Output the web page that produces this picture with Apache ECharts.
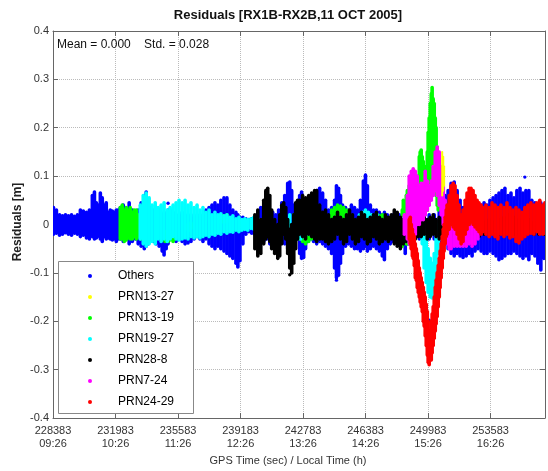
<!DOCTYPE html>
<html>
<head>
<meta charset="utf-8">
<script src="https://cdn.jsdelivr.net/npm/echarts@6/dist/echarts.min.js"></script>
<style>
  html, body { margin: 0; padding: 0; background: #fff; }
  #chart { width: 548px; height: 471px; }
</style>
</head>
<body>
<div id="chart"></div>
<script>
// GPS second-of-week ticks and the matching local clock time
const xTickSeconds = [228383, 231983, 235583, 239183, 242783, 246383, 249983, 253583];
const xTickLocal = ['09:26', '10:26', '11:26', '12:26', '13:26', '14:26', '15:26', '16:26'];

const seriesNames = ['Others', 'PRN13-27', 'PRN13-19', 'PRN19-27', 'PRN28-8', 'PRN7-24', 'PRN24-29'];
const seriesColors = ['#0000ff', '#ffff00', '#00ff00', '#00ffff', '#000000', '#ff00ff', '#ff0000'];

// Each row: [GPS time (s), lowest residual (m), highest residual (m)] of the epoch cluster.
// Rows with equal low and high are single isolated residuals.
const others = [
  [228410,-0.020,0.035],[228580,-0.018,0.030],[228760,-0.022,0.020],[228930,-0.020,0.018],
  [229100,-0.017,0.020],[229270,-0.020,0.018],[229450,-0.022,0.020],[229620,-0.018,0.017],
  [229790,-0.020,0.020],[229960,-0.025,0.030],[230130,-0.022,0.028],[230310,-0.028,0.025],
  [230480,-0.030,0.030],[230650,-0.025,0.060],[230770,-0.030,0.067],[230880,-0.028,0.045],
  [231000,-0.024,0.040],[231110,-0.030,0.065],[231220,-0.035,0.055],[231340,-0.025,0.040],
  [231450,-0.030,0.045],[231570,-0.028,0.025],[231680,-0.030,0.030],[231800,-0.032,0.028],
  [231910,-0.030,0.025],[232030,-0.035,0.030],[232140,-0.030,0.030],[232260,-0.030,0.035],
  [232430,-0.035,0.040],[232600,-0.028,0.030],[232770,-0.040,0.045],[232950,-0.035,0.030],
  [233120,-0.030,0.025],[233290,-0.040,0.030],[233460,-0.045,0.045],[233640,-0.050,0.060],
  [233750,-0.045,0.067],[233860,-0.040,0.050],[233980,-0.030,0.035],[234150,-0.035,0.030],
  [234320,-0.040,0.025],[234500,-0.045,0.030],[234670,-0.055,0.020],[234780,-0.063,0.025],
  [234900,-0.050,0.020],[235010,-0.040,0.030],[235130,-0.030,0.030],[235300,-0.030,0.025],
  [235470,-0.035,0.020],[235640,-0.030,0.020],[235820,-0.035,0.025],[235990,-0.040,0.020],
  [236160,-0.038,0.018],[236330,-0.035,0.020],[236510,-0.030,0.015],[236680,-0.025,0.020],
  [236850,-0.030,0.015],[237020,-0.035,0.020],[237190,-0.030,0.030],[237370,-0.040,0.035],
  [237540,-0.045,0.040],[237710,-0.050,0.045],[237880,-0.045,0.040],[238050,-0.050,0.050],
  [238230,-0.055,0.055],[238400,-0.060,0.055],[238570,-0.065,0.040],[238740,-0.070,0.030],
  [238920,-0.080,0.025],[239030,-0.088,0.020],[239150,-0.075,0.015],[239320,-0.040,0.015],
  [239490,-0.020,0.012],[239660,-0.015,0.010],[239830,-0.018,0.012],[240010,-0.020,0.015],
  [240180,-0.025,0.025],[240350,-0.030,0.035],[240520,-0.035,0.030],[240700,-0.030,0.020],
  [240870,-0.040,0.020],[241040,-0.045,0.025],[241210,-0.040,0.020],[241380,-0.030,0.030],
  [241560,-0.035,0.045],[241730,-0.040,0.060],[241900,-0.050,0.085],[242020,-0.060,0.088],
  [242130,-0.070,0.070],[242250,-0.050,0.040],[242420,-0.030,0.030],[242590,-0.060,0.060],
  [242700,-0.070,0.067],[242820,-0.068,0.050],[242930,-0.050,0.040],[243050,-0.035,0.030],
  [243220,-0.030,0.025],[243390,-0.035,0.040],[243570,-0.040,0.070],[243740,-0.035,0.075],
  [243910,-0.040,0.065],[244080,-0.045,0.050],[244250,-0.050,0.030],[244430,-0.060,0.035],
  [244600,-0.090,0.050],[244710,-0.110,0.080],[244830,-0.105,0.075],[244940,-0.080,0.060],
  [245060,-0.060,0.040],[245230,-0.045,0.035],[245400,-0.040,0.030],[245570,-0.045,0.040],
  [245750,-0.050,0.035],[245920,-0.050,0.030],[246090,-0.055,0.050],[246260,-0.050,0.090],
  [246380,-0.045,0.102],[246490,-0.055,0.080],[246660,-0.050,0.040],[246840,-0.045,0.030],
  [247010,-0.050,0.030],[247180,-0.055,0.025],[247350,-0.065,0.020],[247470,-0.073,0.025],
  [247640,-0.050,0.020],[247810,-0.040,0.015],[247990,-0.035,0.020],[248160,-0.030,0.015],
  [248330,-0.030,0.020],[248500,-0.025,0.015],[248670,-0.060,0.020],[248850,-0.040,0.015],
  [249020,-0.035,0.020],[249190,-0.030,0.015],[249480,-0.030,0.015],[249760,-0.030,0.020],
  [250050,-0.030,0.020],[250340,-0.030,0.020],[250630,-0.040,0.030],[250800,-0.030,0.040],
  [250970,-0.040,0.060],[251140,-0.050,0.070],[251310,-0.060,0.085],[251490,-0.065,0.088],
  [251660,-0.060,0.070],[251830,-0.065,0.050],[252000,-0.068,0.035],[252180,-0.065,0.030],
  [252350,-0.060,0.025],[252520,-0.065,0.030],[252690,-0.055,0.035],[252860,-0.050,0.030],
  [253040,-0.055,0.040],[253210,-0.060,0.045],[253380,-0.060,0.040],[253550,-0.055,0.050],
  [253730,-0.060,0.055],[253900,-0.065,0.060],[254070,-0.073,0.065],[254240,-0.070,0.070],
  [254410,-0.065,0.075],[254590,-0.060,0.060],[254760,-0.060,0.065],[254930,-0.055,0.055],
  [255100,-0.060,0.070],[255280,-0.065,0.075],[255450,-0.070,0.065],[255620,-0.065,0.070],
  [255790,-0.073,0.070],[255960,-0.060,0.050],[256140,-0.065,0.045],[256310,-0.080,0.040],
  [256480,-0.094,0.045],[256650,-0.070,0.040],
  [249760,-0.152,-0.152],[250050,-0.198,-0.198],[255560,0.098,0.098],[235010,0.044,0.044],
  [244710,-0.115,-0.115]
];

const prn13_27 = [
  [250800,0.060,0.150],[250860,0.070,0.140],[250910,0.080,0.120]
];

const prn13_19 = [
  [232260,-0.030,0.035],[232370,-0.030,0.040],[232490,-0.035,0.030],[232600,-0.032,0.035],
  [232720,-0.028,0.030],[232830,-0.030,0.035],[232950,-0.030,0.025],[233060,-0.025,0.030],
  [233180,-0.030,0.030],[233290,-0.025,0.020],[233410,-0.030,0.015],
  [234840,-0.035,-0.015],[235010,-0.035,-0.018],[235130,-0.032,-0.015],[235300,-0.035,-0.020],
  [235410,-0.030,-0.015],
  [236160,-0.010,0.000],[236280,-0.012,0.002],[236330,-0.008,0.003],
  [238050,0.005,0.020],[238230,0.004,0.018],[238400,0.006,0.020],[239260,-0.005,0.008],
  [242250,0.005,0.020],[242300,0.004,0.018],
  [242590,-0.030,-0.010],[242760,-0.035,-0.012],[242930,-0.040,-0.010],[243110,-0.035,-0.012],
  [243280,-0.030,-0.010],
  [244430,0.005,0.030],[244600,0.010,0.035],[244770,0.012,0.040],[244940,0.015,0.038],
  [245120,0.010,0.035],[245290,0.012,0.030],
  [247070,0.005,0.020],[247180,0.004,0.018],[247350,0.006,0.020],
  [248500,-0.045,0.030],[248560,-0.040,0.050],[248620,-0.030,0.030],[248730,-0.040,0.060],
  [248790,-0.040,0.070],[248900,-0.020,0.080],[248960,-0.020,0.060],[249080,-0.010,0.040],
  [249190,-0.005,0.050],[249310,0.000,0.060],[249420,0.005,0.100],[249480,0.010,0.140],
  [249530,0.015,0.150],[249590,0.020,0.154],[249650,0.030,0.140],[249710,0.030,0.130],
  [249760,0.030,0.110],[249820,0.020,0.090],[249880,0.030,0.120],[249940,0.030,0.150],
  [249990,0.040,0.190],[250050,0.050,0.220],[250110,0.070,0.250],[250170,0.080,0.270],
  [250220,0.120,0.283],[250280,0.100,0.260],[250340,0.100,0.250],[250400,0.080,0.220],
  [250450,0.060,0.200],[250510,0.040,0.160],[250570,0.030,0.120]
];

const prn19_27 = [
  [233410,-0.030,0.040],[233580,-0.040,0.060],[233750,-0.045,0.065],[233920,-0.040,0.055],
  [234090,-0.035,0.040],[234270,-0.040,0.045],[234440,-0.030,0.035],[234610,-0.035,0.040],
  [234780,-0.030,0.045],[234960,-0.035,0.030],[235130,-0.030,0.035],[235300,-0.025,0.040],
  [235470,-0.030,0.045],[235640,-0.032,0.050],[235820,-0.030,0.045],[235990,-0.028,0.050],
  [236160,-0.030,0.040],[236330,-0.025,0.045],[236510,-0.028,0.035],[236680,-0.025,0.040],
  [236850,-0.028,0.030],[237020,-0.025,0.035],[237190,-0.022,0.025],[237370,-0.025,0.030],
  [237540,-0.020,0.020],[237710,-0.022,0.025],[237880,-0.018,0.020],[238050,-0.020,0.022],
  [238230,-0.015,0.018],[238400,-0.018,0.020],[238570,-0.015,0.015],[238740,-0.016,0.018],
  [238920,-0.012,0.012],[239090,-0.015,0.015],[239260,-0.012,0.010],[239430,-0.010,0.012],
  [239600,-0.012,0.010],[239780,-0.008,0.012],[239950,-0.010,0.015],[240120,-0.012,0.012],
  [240290,-0.015,0.010],[240580,-0.020,0.020],[240870,-0.020,0.015],[241730,-0.015,0.015],
  [242020,-0.020,0.020],[242300,-0.025,0.010],[242470,-0.028,0.005],[242650,-0.030,0.000],
  [242820,-0.025,0.005],[242990,-0.020,0.010],[243160,-0.020,0.015],[243340,-0.015,0.020],
  [243510,-0.020,0.020],[243680,-0.025,0.015],[243850,-0.020,0.010],
  [246030,-0.005,0.020],[246210,0.000,0.025],[246380,-0.005,0.030],[246550,-0.010,0.025],
  [246720,0.000,0.020],[246890,-0.005,0.015],[247070,-0.010,0.020],
  [248330,-0.030,0.010],[248500,-0.028,0.012],[248620,-0.030,0.010],
  [249650,-0.040,0.000],[249760,-0.090,-0.010],[249880,-0.120,-0.020],[249990,-0.140,-0.050],
  [250110,-0.150,-0.070],[250220,-0.152,-0.080],[250340,-0.130,-0.060],[250450,-0.100,-0.020],
  [250570,-0.060,0.000],[250680,-0.030,0.010]
];

const prn28_8 = [
  [240010,-0.050,0.020],[240180,-0.065,0.030],[240350,-0.060,0.010],[240520,-0.040,0.050],
  [240640,-0.030,0.070],[240750,-0.025,0.075],[240870,-0.035,0.060],[240980,-0.050,0.030],
  [241150,-0.060,0.010],[241330,-0.070,0.000],[241440,-0.065,0.020],[241560,-0.040,0.040],
  [241670,-0.020,0.045],[241790,-0.030,0.035],[241900,-0.060,0.010],[242020,-0.090,-0.010],
  [242130,-0.100,0.000],[242250,-0.080,0.020],[242360,-0.050,0.045],[242470,-0.030,0.050],
  [242590,-0.020,0.050],[242760,-0.025,0.060],[242930,-0.030,0.055],[243110,-0.020,0.060],
  [243280,-0.025,0.065],[243450,-0.030,0.070],[243570,-0.035,0.070],[243740,-0.030,0.040],
  [243910,-0.030,0.025],[244080,-0.035,0.030],[244250,-0.040,0.020],[244430,-0.035,0.010],
  [244600,-0.030,0.015],[244770,-0.020,0.025],[244940,-0.030,0.015],[245120,-0.040,0.010],
  [245290,-0.035,0.020],[245460,-0.020,0.030],[245630,-0.030,0.020],[245800,-0.040,0.010],
  [245980,-0.035,0.015],[246150,-0.025,0.025],[246320,-0.030,0.020],[246490,-0.040,0.010],
  [246660,-0.035,0.015],[246840,-0.025,0.020],[247010,-0.030,0.025],[247180,-0.040,0.015],
  [247350,-0.035,0.010],[247530,-0.030,0.020],[247700,-0.035,0.015],[247870,-0.030,0.020],
  [248040,-0.040,0.030],[248210,-0.045,0.025],[248390,-0.050,0.015],[248560,-0.040,0.010],
  [248730,-0.035,0.010],[248900,-0.030,0.015],[249080,-0.025,0.010],[249250,-0.030,0.015],
  [249420,-0.025,0.010],[249590,-0.025,0.020],[249760,-0.020,0.015],[249940,-0.030,0.010],
  [250110,-0.025,0.015],[250280,-0.020,0.020],[250450,-0.025,0.010],[250630,-0.030,0.015],
  [250800,-0.025,0.010],[250970,-0.020,0.015],[251200,-0.020,0.010],[251490,-0.025,0.015],
  [251770,-0.020,0.010],[252060,-0.020,0.005],[252350,-0.020,0.000],[252630,-0.020,0.005],
  [252920,-0.025,0.000],[253210,-0.020,0.005],[253500,-0.020,0.010],[253780,-0.015,0.005],
  [254070,-0.020,0.010],[254360,-0.020,0.015],[254640,-0.015,0.020],[254930,-0.020,0.015],
  [255220,-0.020,0.010],[255500,-0.020,0.005],[255790,-0.015,0.010],[256080,-0.020,0.005],
  [256370,-0.020,0.010],[256650,-0.020,0.005],
  [242020,-0.104,-0.104]
];

const prn7_24 = [
  [248620,-0.020,0.020],[248790,-0.030,0.060],[248900,-0.040,0.100],[249020,-0.050,0.110],
  [249130,-0.040,0.115],[249250,-0.020,0.110],[249360,0.000,0.100],[249480,0.000,0.080],
  [249590,0.010,0.085],[249710,0.010,0.085],[249820,0.020,0.110],[249940,0.030,0.090],
  [250050,0.040,0.080],[250170,0.050,0.090],[250280,0.060,0.120],[250400,0.070,0.150],
  [250510,0.060,0.160],[250630,0.040,0.150],[250740,0.020,0.120],[250860,0.000,0.080],
  [250970,-0.020,0.050],[251080,-0.040,0.030],[251200,-0.050,0.010],[251310,-0.050,0.000],
  [251490,-0.045,0.000],[251660,-0.045,0.005],[251830,-0.045,0.000],[252000,-0.045,0.000],
  [252180,-0.045,0.000],[252350,-0.040,-0.005],[252520,-0.045,0.000],[252690,-0.040,-0.005],
  [252860,-0.030,-0.005]
];

const prn24_29 = [
  [248900,-0.030,0.010],[248960,-0.040,0.015],[249020,-0.050,0.000],[249080,-0.065,-0.010],
  [249130,-0.070,-0.020],[249190,-0.085,-0.025],[249250,-0.110,-0.040],[249310,-0.115,-0.050],
  [249360,-0.130,-0.060],[249420,-0.140,-0.075],[249480,-0.150,-0.090],[249530,-0.160,-0.100],
  [249590,-0.170,-0.110],[249650,-0.180,-0.120],[249710,-0.200,-0.130],[249760,-0.210,-0.140],
  [249820,-0.230,-0.150],[249880,-0.250,-0.165],[249940,-0.270,-0.180],[249990,-0.285,-0.200],
  [250050,-0.290,-0.220],
  [250110,-0.280,-0.220],[250170,-0.280,-0.200],[250220,-0.265,-0.185],[250280,-0.250,-0.170],
  [250340,-0.235,-0.150],[250400,-0.220,-0.130],[250450,-0.205,-0.115],[250510,-0.190,-0.100],
  [250570,-0.170,-0.085],[250630,-0.150,-0.070],[250680,-0.130,-0.055],[250740,-0.110,-0.040],
  [250800,-0.090,-0.025],[250860,-0.070,-0.010],[250910,-0.055,0.000],[250970,-0.040,0.015],
  [251030,-0.025,0.030],
  [251080,-0.020,0.040],[251200,-0.010,0.060],[251310,0.000,0.080],[251430,-0.005,0.085],
  [251540,-0.010,0.080],[251660,-0.020,0.060],[251770,-0.030,0.040],[251890,-0.040,0.020],
  [252000,-0.035,0.030],[252120,-0.020,0.050],[252230,-0.010,0.065],[252350,0.000,0.075],
  [252460,0.005,0.075],[252580,0.000,0.070],[252690,-0.005,0.060],[252810,-0.010,0.050],
  [252920,-0.015,0.045],[253040,-0.020,0.040],[253150,-0.015,0.035],
  [253320,-0.020,0.040],[253500,-0.025,0.035],[253670,-0.020,0.045],[253840,-0.025,0.040],
  [254010,-0.030,0.035],[254180,-0.020,0.040],[254360,-0.025,0.035],[254530,-0.020,0.045],
  [254700,-0.028,0.035],[254870,-0.025,0.030],[255050,-0.035,0.035],[255220,-0.038,0.030],
  [255390,-0.030,0.025],[255560,-0.025,0.035],[255730,-0.020,0.040],[255910,-0.018,0.045],
  [256080,-0.020,0.040],[256250,-0.015,0.045],[256420,-0.020,0.050],[256600,-0.020,0.040],
  [256710,-0.018,0.045]
];

const seriesData = [others, prn13_27, prn13_19, prn19_27, prn28_8, prn7_24, prn24_29];

const FONT = '"Liberation Sans", Arial, Helvetica, sans-serif';
const AXIS_COLOR = '#666';
const TEXT_COLOR = '#333';

// Vertical span of residuals at one epoch (round-capped stroke), or a single dot when low equals high
function clusterRenderer(color, width) {
  return function (params, api) {
    const t = api.value(0), lo = api.value(1), hi = api.value(2);
    const top = api.coord([t, hi]);
    const bot = api.coord([t, lo]);
    if (lo === hi) {
      return { type: 'circle', shape: { cx: top[0], cy: top[1], r: 1.7 }, style: { fill: color } };
    }
    return {
      type: 'line',
      shape: { x1: top[0], y1: top[1], x2: bot[0], y2: bot[1] },
      style: { stroke: color, lineWidth: width, lineCap: 'round' }
    };
  };
}

function xLabel(v) {
  const i = xTickSeconds.findIndex(s => Math.abs(s - v) < 1);
  return i < 0 ? '' : xTickSeconds[i] + '\n' + xTickLocal[i];
}

function yLabel(v) {
  return Math.abs(v) < 1e-9 ? '0' : v.toFixed(1);
}

const xMin = 228383, xMax = 256720;

const chart = echarts.init(document.getElementById('chart'), null, { renderer: 'canvas' });

chart.setOption({
  animation: false,
  backgroundColor: '#fff',
  textStyle: { fontFamily: FONT },
  grid: { left: 53, right: 2, top: 31, bottom: 53, containLabel: false },
  xAxis: [{
    type: 'value', min: xMin, max: xMax, interval: 3600, position: 'bottom',
    axisLine: { show: true, onZero: false, lineStyle: { color: AXIS_COLOR } },
    axisTick: { show: true, inside: true, length: 5, lineStyle: { color: AXIS_COLOR } },
    axisLabel: { formatter: xLabel, color: TEXT_COLOR, fontSize: 11, lineHeight: 13, margin: 6, fontFamily: FONT },
    splitLine: { show: true, lineStyle: { type: 'dotted', color: '#bbb' } }
  }, {
    type: 'value', min: xMin, max: xMax, interval: 3600, position: 'top',
    axisLine: { show: true, onZero: false, lineStyle: { color: AXIS_COLOR } },
    axisTick: { show: true, inside: true, length: 5, lineStyle: { color: AXIS_COLOR } },
    axisLabel: { show: false }, splitLine: { show: false }
  }],
  yAxis: [{
    type: 'value', min: -0.4, max: 0.4, interval: 0.1, position: 'left',
    axisLine: { show: true, onZero: false, lineStyle: { color: AXIS_COLOR } },
    axisTick: { show: true, inside: true, length: 5, lineStyle: { color: AXIS_COLOR } },
    axisLabel: { formatter: yLabel, color: TEXT_COLOR, fontSize: 11, margin: 4, fontFamily: FONT },
    splitLine: { show: true, lineStyle: { type: 'dotted', color: '#bbb' } }
  }, {
    type: 'value', min: -0.4, max: 0.4, interval: 0.1, position: 'right',
    axisLine: { show: true, onZero: false, lineStyle: { color: AXIS_COLOR } },
    axisTick: { show: true, inside: true, length: 5, lineStyle: { color: AXIS_COLOR } },
    axisLabel: { show: false }, splitLine: { show: false }
  }],
  legend: {
    data: seriesNames,
    orient: 'vertical',
    left: 83, top: 264,
    icon: 'circle', itemWidth: 4, itemHeight: 4, itemGap: 7,
    z: 30,
    textStyle: { fontSize: 12, color: '#000', lineHeight: 14, fontFamily: FONT, padding: [0, 0, 0, 21] }
  },
  graphic: [
    { type: 'text', x: 288, y: 15, z: 40,
      style: { text: 'Residuals [RX1B-RX2B,11 OCT 2005]', font: 'bold 13px ' + FONT, fill: '#111', align: 'center', verticalAlign: 'middle' } },
    { type: 'text', x: 57, y: 45, z: 40,
      style: { text: 'Mean = 0.000    Std. = 0.028', font: '12px ' + FONT, fill: '#111', align: 'left', verticalAlign: 'middle' } },
    { type: 'text', x: 18, y: 222, rotation: Math.PI / 2, z: 40,
      style: { text: 'Residuals [m]', font: 'bold 12px ' + FONT, fill: '#222', align: 'center', verticalAlign: 'middle' } },
    { type: 'text', x: 288, y: 461, z: 40,
      style: { text: 'GPS Time (sec) / Local Time (h)', font: '11px ' + FONT, fill: TEXT_COLOR, align: 'center', verticalAlign: 'middle' } },
    { type: 'rect', z: 20, shape: { x: 58.5, y: 261.5, width: 135, height: 152 },
      style: { fill: '#fff', stroke: '#888', lineWidth: 1 } }
  ],
  series: seriesNames.map((name, i) => ({
    type: 'custom',
    name: name,
    data: seriesData[i],
    encode: { x: 0, y: [1, 2] },
    clip: true,
    z: name === 'PRN13-27' ? 4 : 2,
    itemStyle: { color: seriesColors[i] },
    renderItem: clusterRenderer(seriesColors[i], name === 'PRN13-27' ? 2 : 3.6)
  }))
});
</script>
</body>
</html>
